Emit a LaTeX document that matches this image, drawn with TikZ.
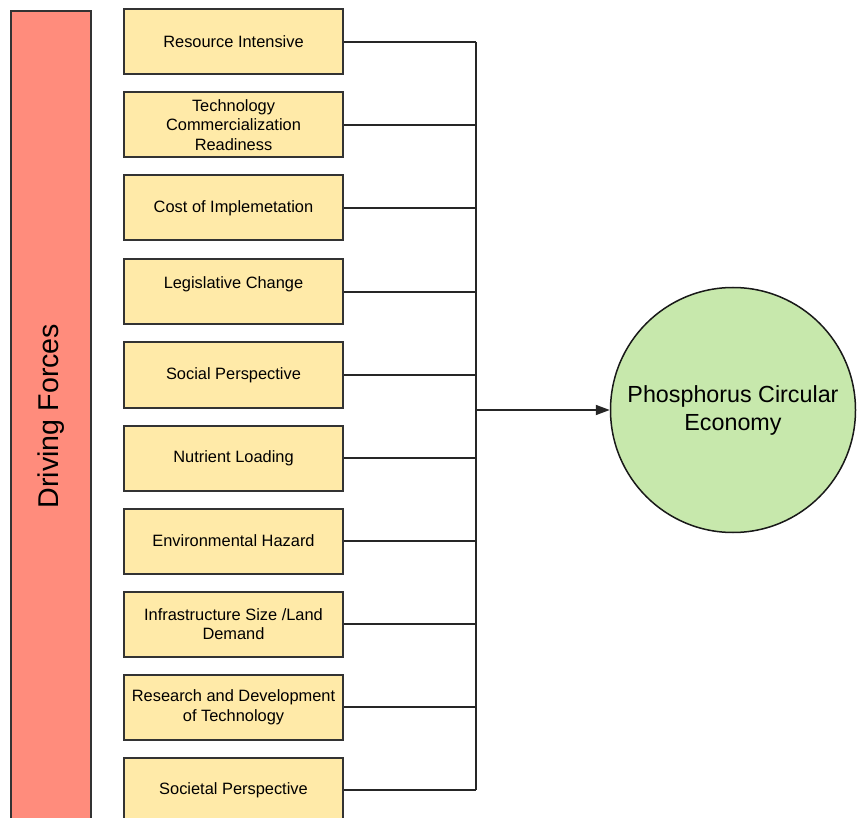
\documentclass[tikz,border=0pt]{standalone}
\usepackage{fontspec}
\setmainfont{Liberation Sans}
\usetikzlibrary{arrows.meta}
\definecolor{barred}{HTML}{FF8C7C}
\definecolor{boxyellow}{HTML}{FFEAA8}
\definecolor{econgreen}{HTML}{C7E8AC}

\begin{document}
\begin{tikzpicture}[x=.5pt,y=-.5pt,>={Triangle[length=7pt,width=5pt]},
faktor/.style={rectangle,draw=black!80,line width=1pt,fill=boxyellow,
  minimum width=109.5pt,minimum height=32.5pt,inner sep=1pt,align=center,
  font=\fontsize{8.2}{9.8}\selectfont},
hajto/.style={rectangle,draw=black!80,line width=1pt,fill=barred,rotate=90,
  minimum width=405pt,minimum height=40pt,font=\fontsize{14.3}{16}\selectfont},
cel/.style={circle,draw=black!90,line width=.75pt,fill=econgreen,minimum size=122.5pt,
  align=center,font=\fontsize{11.65}{14}\selectfont}]

\useasboundingbox (0,0) rectangle (857,818);

\pgfmathsetmacro{\sinx}{476}

\node[hajto](drive) at (51,416){Driving Forces};

\node[faktor](resource) at (233.5,42){Resource Intensive};
\node[faktor](techready) at (233.5,125){Technology\\Commercialization\\Readiness};
\node[faktor](cost) at (233.5,208){Cost of Implemetation};
\node[faktor](legis) at (233.5,292){Legislative Change\\\phantom{x}};
\node[faktor](social) at (233.5,375){Social Perspective};
\node[faktor](nutrient) at (233.5,458){Nutrient Loading};
\node[faktor](envhazard) at (233.5,541){Environmental Hazard};
\node[faktor](infra) at (233.5,624){Infrastructure Size /Land\\Demand};
\node[faktor](research) at (233.5,707){Research and Development\\of Technology};
\node[faktor](societal) at (233.5,790){Societal Perspective};

\node[cel](pce) at (733,410){Phosphorus Circular\\Economy};

\coordinate(sin) at (\sinx,410);

\begin{scope}[line width=.9pt,draw=black!85]
\draw (resource.east)--(resource.east-|sin);
\draw (techready.east)--(techready.east-|sin);
\draw (cost.east)--(cost.east-|sin);
\draw (legis.east)--(legis.east-|sin);
\draw (social.east)--(social.east-|sin);
\draw (nutrient.east)--(nutrient.east-|sin);
\draw (envhazard.east)--(envhazard.east-|sin);
\draw (infra.east)--(infra.east-|sin);
\draw (research.east)--(research.east-|sin);
\draw (societal.east)--(societal.east-|sin);
\draw (resource.east-|sin)--(societal.east-|sin);
\draw[->] (sin)--(pce);
\end{scope}

\end{tikzpicture}
\end{document}
